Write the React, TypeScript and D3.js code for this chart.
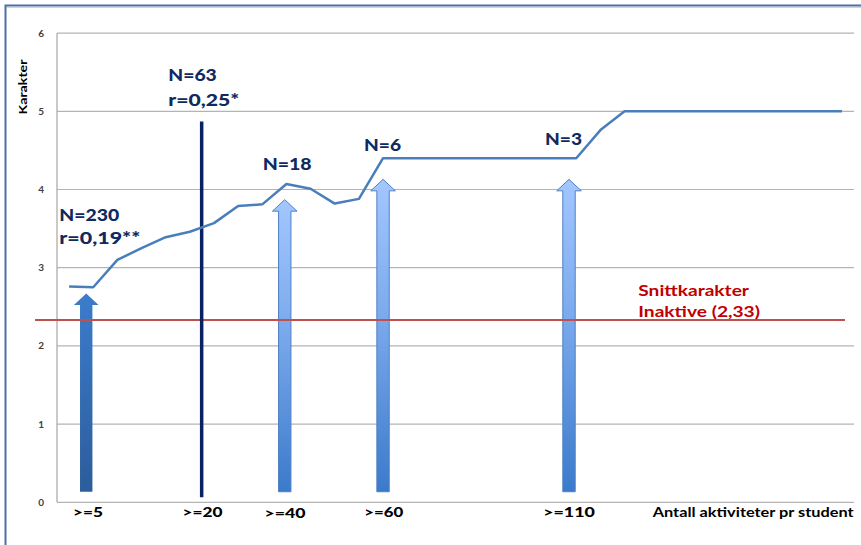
import React from "react";
import * as d3 from "d3";

// ---- data ----
const categoryIndex: number[] = Array.from({ length: 33 }, (_, i) => i);
const gradeValues: number[] = [
  2.76, 2.75, 3.1, 3.25, 3.39, 3.46, 3.57, 3.79, 3.81, 4.07, 4.01, 3.82, 3.88,
  4.4, 4.4, 4.4, 4.4, 4.4, 4.4, 4.4, 4.4, 4.4, 4.76, 5.0, 5.0, 5.0, 5.0, 5.0,
  5.0, 5.0, 5.0, 5.0, 5.0,
];
const yTicks: number[] = [0, 1, 2, 3, 4, 5, 6];
const xLabels: string[] = [">=5", ">=20", ">=40", ">=60", ">=110"];
const xLabelPos: number[] = [0.78, 5.53, 8.94, 13.03, 20.7];
const arrowPos: number[] = [0.71, 8.93, 13.0, 20.7];
const arrowTop: number[] = [2.67, 3.87, 4.13, 4.13];
const arrowBase = 0.135;
const inactiveAverage = 2.33;
const markerPos = 5.49;
const markerTop = 4.87;
const markerBottom = 0.064;

const W = 861;
const H = 545;

export default function App() {
  const x = d3.scaleLinear().domain([-0.5, 32.5]).range([57, 854]);
  const y = d3.scaleLinear().domain([0, 6]).range([502.3, 33.1]);
  const line = d3
    .line<number>()
    .x((_, i) => x(categoryIndex[i]))
    .y((d) => y(d));

  const navy = "#10295e";
  const font = "Lato, 'Open Sans', sans-serif";

  const arrowPath = (cx: number, top: number) => {
    const tipY = y(top);
    const baseY = y(arrowBase);
    const shaftHalf = 6.2;
    const headHalf = 12.3;
    const headH = 11.5;
    const p = d3.path();
    p.moveTo(cx, tipY);
    p.lineTo(cx + headHalf, tipY + headH);
    p.lineTo(cx + shaftHalf, tipY + headH);
    p.lineTo(cx + shaftHalf, baseY);
    p.lineTo(cx - shaftHalf, baseY);
    p.lineTo(cx - shaftHalf, tipY + headH);
    p.lineTo(cx - headHalf, tipY + headH);
    p.closePath();
    return p.toString();
  };

  return (
    <svg
      width={W}
      height={H}
      style={{ position: "absolute", left: 0, top: 0, background: "#fff" }}
    >
      <defs>
        <linearGradient id="g1" x1="0" y1="0" x2="0" y2="1">
          <stop offset="0" stopColor="#3c7ccb" />
          <stop offset="1" stopColor="#2c5d9c" />
        </linearGradient>
        <linearGradient id="g2" x1="0" y1="0" x2="0" y2="1">
          <stop offset="0" stopColor="#a3c7ff" />
          <stop offset="0.45" stopColor="#7aa9ec" />
          <stop offset="1" stopColor="#3b7acb" />
        </linearGradient>
      </defs>

      {/* outer frame */}
      <rect x={5.5} y={5.5} width={W + 20} height={H + 20} fill="none" stroke="#4d6fa3" strokeWidth={2} />
      <line x1={7} x2={W} y1={7.5} y2={7.5} stroke="#c9d5e8" strokeWidth={1} />

      {/* gridlines */}
      {yTicks.map((t) => (
        <line key={t} x1={57} x2={854} y1={y(t)} y2={y(t)} stroke="#b4b4b4" strokeWidth={1.2} />
      ))}
      <line x1={57} x2={57} y1={y(6)} y2={y(0)} stroke="#a6a6a6" strokeWidth={1.2} />

      {/* y tick labels */}
      {yTicks.map((t) => (
        <text key={t} x={44} y={y(t) + 3.5} textAnchor="end" fontFamily={font} fontWeight="bold" fontSize={10} fill="#404040">
          {t}
        </text>
      ))}
      <text
        transform={`translate(27,${87}) rotate(-90)`}
        textAnchor="middle"
        fontFamily={font}
        fontWeight="bold"
        fontSize={12}
        textLength={55}
        lengthAdjust="spacingAndGlyphs"
        fill="#000"
      >
        Karakter
      </text>

      {/* arrows */}
      {arrowPos.map((p, i) => (
        <path
          key={i}
          d={arrowPath(x(p), arrowTop[i])}
          fill={i === 0 ? "url(#g1)" : "url(#g2)"}
          stroke={i === 0 ? "none" : "#4f81c4"}
          strokeWidth={1}
        />
      ))}

      {/* inactive average line */}
      <line x1={35} x2={845} y1={y(inactiveAverage)} y2={y(inactiveAverage)} stroke="#c0504d" strokeWidth={2} />

      {/* navy marker */}
      <line x1={x(markerPos)} x2={x(markerPos)} y1={y(markerTop)} y2={y(markerBottom)} stroke="#0b2262" strokeWidth={3.5} />

      {/* grade line */}
      <path d={line(gradeValues) || ""} fill="none" stroke="#4a7ebb" strokeWidth={2.5} strokeLinejoin="round" />

      {/* annotations */}
      <g fontFamily={font} fontWeight={900} fill={navy}>
        <text x={59.3} y={220.7} fontSize={17.5} textLength={60} lengthAdjust="spacingAndGlyphs">N=230</text>
        <text x={59.3} y={244.3} fontSize={17.5} textLength={81} lengthAdjust="spacingAndGlyphs">r=0,19**</text>
        <text x={168.3} y={81} fontSize={16.5} textLength={48.5} lengthAdjust="spacingAndGlyphs">N=63</text>
        <text x={168.3} y={105.5} fontSize={16.5} textLength={71} lengthAdjust="spacingAndGlyphs">r=0,25*</text>
        <text x={262.7} y={170} fontSize={17.5} textLength={49} lengthAdjust="spacingAndGlyphs">N=18</text>
        <text x={364} y={151} fontSize={17.5} textLength={37} lengthAdjust="spacingAndGlyphs">N=6</text>
        <text x={545} y={145} fontSize={17.5} textLength={37} lengthAdjust="spacingAndGlyphs">N=3</text>
      </g>
      <g fontFamily={font} fontWeight="bold" fill="#c00000" fontSize={15.5}>
        <text x={638.3} y={295.7} textLength={110.7} lengthAdjust="spacingAndGlyphs">Snittkarakter</text>
        <text x={638.3} y={316.7} textLength={121.7} lengthAdjust="spacingAndGlyphs">Inaktive (2,33)</text>
      </g>

      {/* x labels */}
      <g fontFamily={font} fontWeight={900} fill="#000" fontSize={14}>
        {xLabels.map((l, i) => (
          <text
            key={l}
            x={x(xLabelPos[i])}
            y={i === 2 ? 517.5 : 516.5}
            textAnchor="middle"
            textLength={[30, 40, 41, 39, 51.7][i]}
            lengthAdjust="spacingAndGlyphs"
          >
            {l}
          </text>
        ))}
        <text x={652.7} y={516.5} fontSize={13} fontWeight="bold" textLength={201} lengthAdjust="spacingAndGlyphs">
          Antall aktiviteter pr student
        </text>
      </g>
    </svg>
  );
}
